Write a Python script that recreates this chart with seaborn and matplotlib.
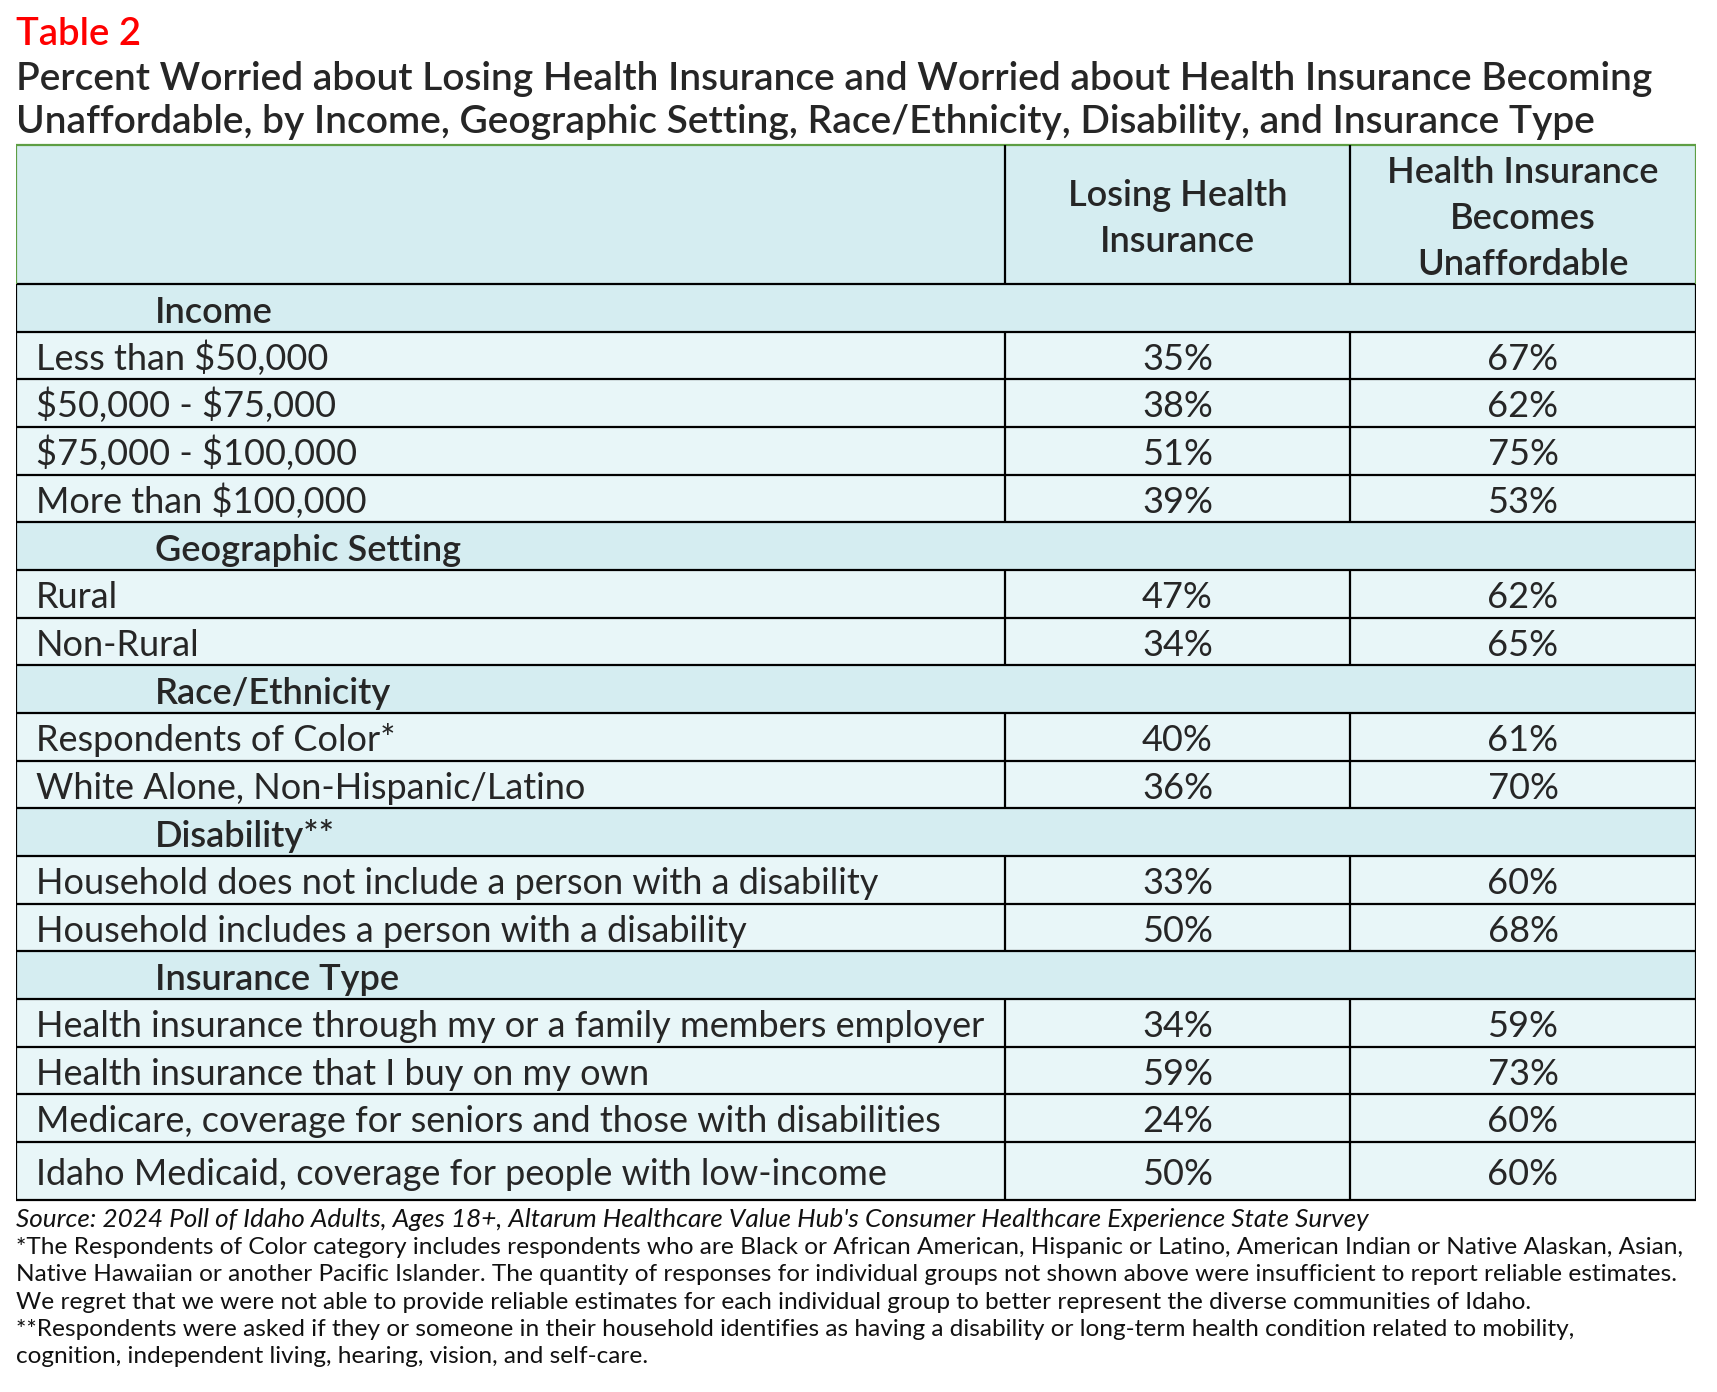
import numpy as np
import pandas as pd
import matplotlib.pyplot as plt
import seaborn as sns

# data
groups = ["Income", "Geographic Setting", "Race/Ethnicity", "Disability**", "Insurance Type"]
income_labels = ["Less than \\$50,000", "\\$50,000 - \\$75,000", "\\$75,000 - \\$100,000", "More than \\$100,000"]
income_losing = [35, 38, 51, 39]
income_unaff = [67, 62, 75, 53]
geo_labels = ["Rural", "Non-Rural"]
geo_losing = [47, 34]
geo_unaff = [62, 65]
race_labels = ["Respondents of Color*", "White Alone, Non-Hispanic/Latino"]
race_losing = [40, 36]
race_unaff = [61, 70]
dis_labels = ["Household does not include a person with a disability",
              "Household includes a person with a disability"]
dis_losing = [33, 50]
dis_unaff = [60, 68]
ins_labels = ["Health insurance through my or a family members employer",
              "Health insurance that I buy on my own",
              "Medicare, coverage for seniors and those with disabilities",
              "Idaho Medicaid, coverage for people with low-income"]
ins_losing = [34, 59, 24, 50]
ins_unaff = [59, 73, 60, 60]
col_headers = [["Losing Health", "Insurance"], ["Health Insurance", "Becomes", "Unaffordable"]]

title_tag = "Table 2"
title_lines = ["Percent Worried about Losing Health Insurance and Worried about Health Insurance Becoming",
               "Unaffordable, by Income, Geographic Setting, Race/Ethnicity, Disability, and Insurance Type"]
source = ("Source: 2024 Poll of Idaho Adults, Ages 18+, Altarum Healthcare Value Hub's "
          "Consumer Healthcare Experience State Survey")
notes = [
    "*The Respondents of Color category includes respondents who are Black or African American, Hispanic or Latino, American Indian or Native Alaskan, Asian,",
    "Native Hawaiian or another Pacific Islander. The quantity of responses for individual groups not shown above were insufficient to report reliable estimates.",
    "We regret that we were not able to provide reliable estimates for each individual group to better represent the diverse communities of Idaho.",
    "**Respondents were asked if they or someone in their household identifies as having a disability or long-term health condition related to mobility,",
    "cognition, independent living, hearing, vision, and self-care.",
]

# build table rows
sections = [
    (income_labels, income_losing, income_unaff),
    (geo_labels, geo_losing, geo_unaff),
    (race_labels, race_losing, race_unaff),
    (dis_labels, dis_losing, dis_unaff),
    (ins_labels, ins_losing, ins_unaff),
]
rows = []
for g, (labs, a, b) in zip(groups, sections):
    rows.append({"label": g, "kind": "section", "losing": None, "unaff": None})
    for l, v1, v2 in zip(labs, a, b):
        rows.append({"label": l, "kind": "data", "losing": f"{v1}%", "unaff": f"{v2}%"})
df = pd.DataFrame(rows)

# layout (pixels)
W, H = 1717, 1392
x0, x1, x2, x3 = 16, 1005, 1350, 1696
y_top, y_head = 145, 284
row_h = 47.67
last_h = 58
heights = np.full(len(df), row_h)
heights[-1] = last_h
bottoms = y_head + np.cumsum(heights)
tops = bottoms - heights
df["top"] = tops
df["bottom"] = bottoms
df["mid"] = (tops + bottoms) / 2

head_fill = "#D5EDF1"
data_fill = "#E8F6F8"
green = "#5E9E44"

sns.set_theme(style="white")
plt.rcParams["font.family"] = ["Lato", "DejaVu Sans"]

fig = plt.figure(figsize=(W / 100, H / 100), dpi=100)
ax = fig.add_axes([x0 / W, 1 - 1202 / H, (x3 - x0) / W, (1202 - 143) / H])
ax.set_xlim(x0, x3)
ax.set_ylim(1202, 143)
ax.axis("off")

# backgrounds
fills = [head_fill if k == "section" else data_fill for k in df["kind"]]
ax.barh(df["mid"], x3 - x0, left=x0, height=heights, color=fills, edgecolor="none")
ax.barh([(y_top + y_head) / 2], x3 - x0, left=x0, height=y_head - y_top, color=head_fill,
        edgecolor="none")

# lines
lw = 1.6
ax.hlines(np.r_[y_head, bottoms], x0, x3, color="black", lw=lw)
ax.vlines([x0, x3], y_head, bottoms[-1], color="black", lw=lw)
ax.hlines(y_top, x0, x3, color=green, lw=lw)
ax.vlines([x0, x3], y_top, y_head, color=green, lw=lw)
ax.vlines([x1, x2], y_top, y_head, color="black", lw=lw)
dd = df[df["kind"] == "data"]
ax.vlines([x1] * len(dd), dd["top"], dd["bottom"], color="black", lw=lw)
ax.vlines([x2] * len(dd), dd["top"], dd["bottom"], color="black", lw=lw)

# header text
fs = 26
for i, line in enumerate(col_headers[0]):
    ax.text((x1 + x2) / 2, 206 + 46 * i, line, ha="center", va="baseline",
            fontsize=fs, fontweight="semibold")
for i, line in enumerate(col_headers[1]):
    ax.text((x2 + x3) / 2, 183 + 46 * i, line, ha="center", va="baseline",
            fontsize=fs, fontweight="semibold")

# cell text
for _, r in df.iterrows():
    base = r["mid"] + 14
    if r["kind"] == "section":
        ax.text(155, base + 1, r["label"], ha="left", va="baseline", fontsize=fs,
                fontweight="semibold")
    else:
        ax.text(36, base, r["label"], ha="left", va="baseline", fontsize=fs)
        ax.text((x1 + x2) / 2, base, r["losing"], ha="center", va="baseline", fontsize=fs)
        ax.text((x2 + x3) / 2, base, r["unaff"], ha="center", va="baseline", fontsize=fs)

# titles
fig.text(16 / W, 1 - 45 / H, title_tag, color="#FF0000", fontsize=27.5, fontweight="semibold",
         va="baseline", ha="left")
for i, line in enumerate(title_lines):
    fig.text(16 / W, 1 - (90 + 43 * i) / H, line, fontsize=28, fontweight="semibold",
             va="baseline", ha="left")

# footnotes
fig.text(16 / W, 1 - 1227 / H, source, fontsize=18.8, style="italic", va="baseline", ha="left",
         color="#111111")
for i, n in enumerate(notes):
    fig.text(16 / W, 1 - (1254 + 27.3 * i) / H, n, fontsize=17.6, va="baseline", ha="left",
             color="#111111")

fig.savefig("out.png", dpi=100)
